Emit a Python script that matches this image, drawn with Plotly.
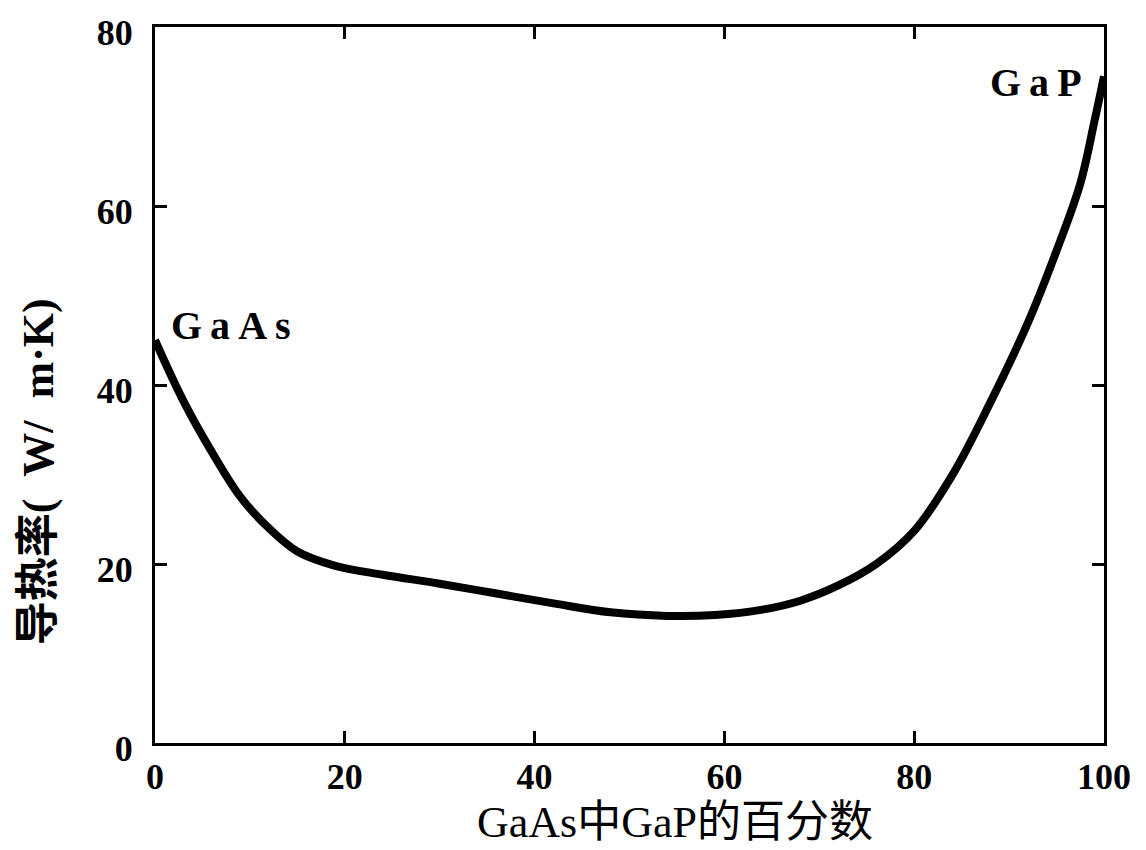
import plotly.graph_objects as go

# Data
gap_percent = [0, 3, 6, 9, 12, 15, 19, 24, 30, 36, 42, 48, 54, 59, 64, 68, 72, 76, 80, 84, 88, 92, 95, 97.5, 99, 100]
conductivity = [45, 38.2, 32.5, 27.5, 24.0, 21.4, 19.8, 18.8, 17.8, 16.7, 15.6, 14.6, 14.2, 14.3, 14.9, 15.9, 17.6, 20.0, 23.7, 29.9, 38.0, 47.0, 55.0, 62.5, 69.5, 74.5]
x_ticks = [0, 20, 40, 60, 80, 100]
y_ticks = [0, 20, 40, 60, 80]

SERIF = "Liberation Serif, Noto Sans CJK SC, serif"

fig = go.Figure()
fig.add_trace(go.Scatter(
    x=gap_percent, y=conductivity, mode="lines",
    line=dict(color="black", width=8, shape="spline", smoothing=1.0),
    cliponaxis=False, showlegend=False, hoverinfo="skip",
))

axis_common = dict(
    showline=True, linecolor="black", linewidth=3, mirror="ticks",
    ticks="inside", ticklen=12, tickwidth=3, tickcolor="black",
    showgrid=False, zeroline=False, automargin=False,
    ticklabeloverflow="allow",
    tickfont=dict(family=SERIF, size=36, color="black", weight="bold"),
)

fig.update_xaxes(range=[0, 100], tickvals=x_ticks, ticklabelstandoff=0, **axis_common)
fig.update_yaxes(range=[0, 80], tickvals=y_ticks, ticklabelstandoff=12, ticklabelshift=5, **axis_common)

fig.add_annotation(x=0, y=45, xref="x", yref="y", text="<b>G\u2009a\u2009A\u2009s</b>",
                   showarrow=False, xanchor="left", yanchor="bottom", xshift=14, yshift=-10,
                   font=dict(family=SERIF, size=40, color="black"))
fig.add_annotation(x=100, y=74, xref="x", yref="y", text="<b>G\u2009a\u2009P</b>",
                   showarrow=False, xanchor="right", yanchor="bottom", xshift=-20, yshift=-26,
                   font=dict(family=SERIF, size=40, color="black"))

# Axis titles
fig.add_annotation(x=0.548, y=0, xref="paper", yref="paper",
                   text="GaAs中GaP的百分数", showarrow=False,
                   xanchor="center", yanchor="middle", yshift=-79,
                   font=dict(family=SERIF, size=44, color="black"))
fig.add_annotation(x=0, y=0.378, xref="paper", yref="paper",
                   text="<b>导热率(  W/  m·K)</b>", showarrow=False, textangle=-90,
                   xanchor="center", yanchor="middle", xshift=-117,
                   font=dict(family=SERIF, size=44, color="black"))

fig.update_layout(
    width=1146, height=850, autosize=False,
    margin=dict(l=147, r=50, t=19, b=115, autoexpand=False),
    paper_bgcolor="white", plot_bgcolor="white",
)

fig.write_html("out.html")
